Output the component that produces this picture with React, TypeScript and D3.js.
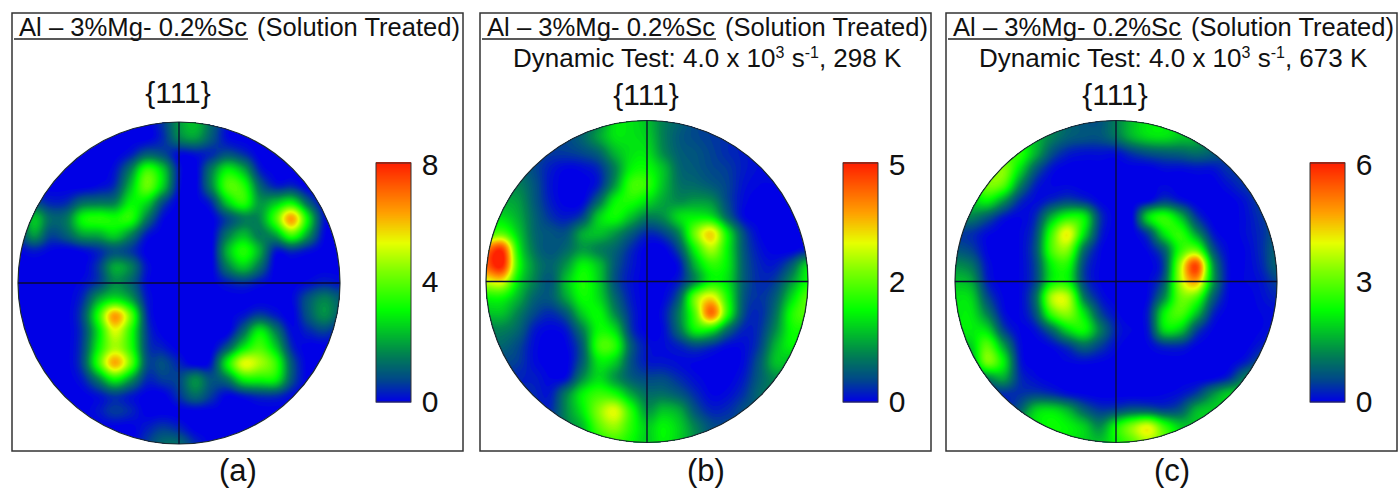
import React from 'react';
import * as d3 from 'd3';

const titleLeft = 'Al – 3%Mg- 0.2%Sc';
const titleRight = '(Solution  Treated)';
const poleLabel = '{111}';
const panelLetters = ['(a)', '(b)', '(c)'];
const testTemps = [null, '298 K', '673 K'];
const scaleMax = [8, 5, 6];
const scaleMid = [4, 2, 3];

// pole figure intensity on a 21x21 grid, in tenths of each colour bar
const poleA = [
  [0,0,0,0,0,0,0,0,0,.8,2.4,3,1.6,.3,0,0,0,0,0,0,0],
  [0,0,0,0,0,0,0,0,0,.6,2,2.4,1.3,.2,0,0,0,0,0,0,0],
  [0,0,0,0,0,0,0,.4,1.4,1.1,.2,.3,.6,1.2,.7,0,0,0,0,0,0],
  [0,0,0,0,0,0,.3,2,4.6,3.2,.4,0,1.9,3.8,2.8,.5,0,0,0,0,0],
  [0,0,0,0,0,.2,.7,3,5.2,3.2,.3,0,2,4.8,4.4,1.6,.5,.6,0,0,0],
  [.2,1,.5,.6,1.6,1.8,2,3.8,3.4,1.1,0,0,.6,3.2,4.4,2.4,3,3.8,1.5,.1,0],
  [1,3,1.6,1.8,3.9,4.3,4.1,4.3,1.9,.2,0,0,0,1,1.9,2.2,4.8,8,3.8,.4,0],
  [.8,2.4,1,1.4,2.5,2.7,3.3,2.1,.4,0,0,0,0,1.8,2.9,1.9,2.6,4.8,2.5,.2,0],
  [.1,.4,.1,0,.2,.6,1.2,.8,0,0,0,0,0,2.8,4.3,2.7,.4,.7,.3,0,0],
  [0,0,0,0,0,.8,2.6,2,.3,0,0,0,0,1.9,3.1,1.7,0,0,0,0,0],
  [0,0,0,0,.2,.9,2.2,1.6,.2,0,0,0,0,.4,.7,.3,0,0,.2,.5,.3],
  [0,0,0,0,.6,2.6,3.6,2.6,.4,0,0,0,0,0,0,0,0,.1,1.2,2,1.4],
  [0,0,0,0,1,4.4,8,5.2,.7,0,0,0,0,0,.3,.9,.4,0,1.2,2.2,1.4],
  [0,0,0,0,.8,3.6,6.6,4.4,.9,0,0,0,0,0,1.6,3.7,2,.2,.5,.9,.4],
  [0,0,0,0,.9,3.9,6,4.4,1,.4,0,0,0,1.3,3.6,4.8,3.2,.6,0,0,0],
  [0,0,0,0,1,4.6,7.8,5.2,1.2,1.1,.5,0,.4,3.8,6.6,6,4.6,1.3,0,0,0],
  [0,0,0,0,.4,2,3.9,2.4,.6,.8,1,2.2,1.2,1.8,3.8,4,3.8,1.2,0,0,0],
  [0,0,0,0,0,.3,.8,.4,0,0,.7,1.6,.8,.1,.4,.7,.7,.2,0,0,0],
  [0,0,0,0,0,.3,.8,.5,0,0,0,0,0,0,0,0,0,0,0,0,0],
  [0,0,0,0,0,0,0,0,.4,.8,.5,0,0,0,0,0,0,0,0,0,0],
  [0,0,0,0,0,0,0,0,.8,1.6,1.6,.6,0,0,0,0,0,0,0,0,0],
];

const poleB = [
  [1,1,1,1,1,1,1,2,3.5,3.5,3,2,1.5,1,.8,.5,.5,.5,.5,.5,.5],
  [1,1,1,1,1,1,1.5,2.5,3.5,3.5,3.2,2,1.3,1,.8,.6,.4,.3,.3,.3,.3],
  [1,1,1,1,.8,.8,1,1.5,2.8,3.5,3.5,2.2,1.4,1.2,.9,.6,.4,.2,.2,.2,.2],
  [1.5,1.5,1.5,1,.4,.1,.2,.6,2,3.8,4,3,1.6,1.3,1,.8,.4,.2,.2,.2,.2],
  [2,2,2,1.2,.3,0,0,.5,2.4,4.6,4.5,3,1.8,1.6,1.3,.9,.3,.1,.1,.1,.1],
  [2.5,2.6,2.4,1.3,.4,0,.1,1.6,3.8,4.2,3.5,2.6,2.2,2.4,2.2,1,.2,0,0,0,0],
  [3.2,3.4,2.7,1.5,.7,.4,1,3.2,4,3,2,2.2,3.4,3.8,3.6,1.6,.2,0,0,0,0],
  [4.5,5,3.2,1.6,1.2,1.2,2.6,3,2.4,1.4,.6,.9,2.2,5.4,7.2,3.8,1.1,.1,0,0,0],
  [8.5,9.6,4,1.8,1.2,1.6,2.4,2,1.5,.6,0,0,1.1,4,6,3.8,1.3,.3,0,0,.4],
  [9,10,4.4,2.2,1.5,2.4,3.8,3,1.3,.4,0,0,.3,2.8,4.4,3.7,1.4,.5,.4,1.4,3.4],
  [6.5,6.8,3.6,2,1.3,3,4.2,3.2,1.2,.3,0,0,.5,2.3,4,3.5,1.4,.6,.9,2.4,4],
  [4,4,2.8,1.5,1.3,2.6,4,3.4,1.6,.4,0,.1,1.4,5.4,7,4.2,1.3,.7,1.4,3.4,5],
  [3,3,2,1,.6,1.3,3.2,3.9,2.2,.6,0,.3,2,5,8.8,4.4,1.1,.6,1.8,4.2,5],
  [2,2,1.5,.4,.1,.4,2,4,3.4,.8,0,.2,1.7,3.9,3.8,1.7,.5,.7,2.2,4,4],
  [1.5,1.5,1,.2,0,.1,1.4,4.6,4.4,1.4,.3,.2,.5,1,.7,.2,.2,.9,2.8,3.8,3.2],
  [1,1,.8,.2,0,0,1.4,3.6,3.2,1.2,.4,.3,.2,.1,0,0,.2,1.3,3,2.8,2.2],
  [.8,.8,.5,.4,.1,.3,2.2,3.4,2.4,1.4,1,1,.6,.2,0,0,.4,1.4,2.2,2.2,2.2],
  [.5,.5,.5,.5,.4,2,3.8,4.6,4.2,2.7,1.7,1.7,1.3,.6,.1,.2,.7,1.6,2,2,2],
  [.5,.5,.5,.5,.6,2.2,3.7,5.6,6.6,4.4,2.4,3,2.6,1.2,.5,.6,1.1,1.5,2,2,2],
  [.5,.5,.5,.5,1,2,3,5,5.8,4.4,3.2,3.8,3.2,2,1.1,1,1,1.5,2,2,2],
  [.5,.5,.5,.5,1,2,3,4,4.6,4,3.2,3.8,3.2,2.2,1.2,1,1,1.5,2,2,2],
];

const poleC = [
  [2,2,2,2,2,2,2,1.5,1.2,1.2,2,3,3.6,3.6,3.2,2.7,2,1,1,1,1],
  [3,3,3,3.2,3.2,2.8,2,1.4,1.2,1.2,1.8,2.8,3.4,3.5,3.1,2.8,1.8,1.2,1,1,1],
  [3,3.2,4,4.2,4.4,2.8,1.2,.5,.3,.3,.3,.8,1.2,1.4,1.5,1.7,1.4,.9,.8,.8,.8],
  [3.2,3.4,4.8,5.6,3.6,1.4,.3,0,0,0,0,0,0,.2,.2,.3,.3,.7,.9,.9,.9],
  [3.2,3.6,5.4,5,2.2,.5,.1,.1,0,0,0,0,0,.1,0,0,0,.3,.7,.9,.9],
  [3,3.2,3.8,2.4,.7,.2,.6,1,.7,.1,0,0,.2,.9,.4,0,0,0,.3,.9,1.1],
  [2,2,1.3,.4,.1,.6,2.8,4.2,3.8,.8,0,.1,3.4,4.4,3,.8,0,0,.2,.7,1.1],
  [.8,.7,.2,0,.1,1,4.6,6.8,3.6,.6,0,0,1,3.6,4.4,2.4,.4,0,.2,.6,1.3],
  [1.2,.9,.1,0,.1,1.2,4.8,5.6,1.8,.2,0,0,.2,1.5,4.4,5,1.3,.1,.1,.6,1.5],
  [2.2,1.8,.3,0,.1,1,3.8,4.2,1,.1,0,0,0,1,6,9.4,2.6,.2,.1,.5,1.5],
  [3,2.6,.5,0,.1,1,3.8,4,1,.1,0,0,.1,1.4,6,7.8,2.6,.2,.1,.3,.9],
  [3.5,3.3,1.1,.1,.1,1.6,6,6.2,2,.4,0,0,.2,2.2,5.2,4.8,1.5,.1,0,.2,.5],
  [3.6,3.6,2,.3,.1,1.2,4.6,5.6,3.6,1.1,.2,0,.5,3.8,4.8,3,.6,0,0,.1,.2],
  [3.6,3.7,3.4,1,.1,.3,1.6,3.4,4,2,.5,.1,.4,3.4,3.2,1,.1,0,0,.1,.4],
  [3,3.2,5,2.6,.3,0,.2,.8,1.6,.9,.2,0,.1,.6,.6,.1,0,0,0,.4,.8],
  [2,2.4,5.4,3.8,.5,0,0,.1,.2,.1,0,0,0,0,0,0,0,0,.4,1.2,1.4],
  [1,1.2,2,2.6,.7,.2,0,0,0,0,0,0,0,0,0,0,.1,.6,2,2.8,2.8],
  [.5,.5,.5,.6,.7,.9,.7,.3,.1,0,0,0,0,.1,.3,.9,2.2,3.2,3.2,3,3],
  [.5,.5,.5,.6,1.4,3.2,3.5,2.8,1.5,.8,1,1.4,1.4,1,1.3,2.8,3.2,3.2,3,3,3],
  [1,1,1,1.2,3,3.6,4,3.8,3.2,2.2,4,5.6,6.6,4.6,3.2,3.1,3,3,3,3,3],
  [1,1,1,1,3,3.5,3.6,3.6,3.3,3,4,5,6,5,3.6,3,3,3,3,3,3],
];

const poles = [poleA, poleB, poleC];

const boxX = [12, 480, 946];
const boxW = 451;
const boxTop = 13;
const boxBottom = 451;
const circleX = [179, 647, 1116];
const circleY = [283, 281.5, 281.5];
const radius = 161;
const barX = [376, 843, 1310];
const barW = 35;
const barTop = 163;
const barBottom = 402;
const font = '"Liberation Sans", Arial, sans-serif';

const colour = d3
  .scaleLinear<string>()
  .domain([0, 0.09, 0.2, 0.385, 0.55, 0.665, 0.79, 1])
  .range(['#0000e6', '#00468c', '#008250', '#00ff00', '#80ff00', '#e6ff00', '#ffa000', '#ff1e00'])
  .clamp(true);

// catmull-rom resample so the coarse grid draws as smooth contours
const cubic = (a: number, b: number, c: number, d: number, t: number) =>
  b + 0.5 * t * (c - a + t * (2 * a - 5 * b + 4 * c - d + t * (3 * (b - c) + d - a)));

const resample = (grid: number[][], m: number) => {
  const n = grid.length;
  const at = (r: number, c: number) =>
    grid[Math.max(0, Math.min(n - 1, r))][Math.max(0, Math.min(n - 1, c))];
  const out = new Array(m * m);
  for (let j = 0; j < m; j++) {
    const fy = ((j + 0.5) / m) * (n - 1);
    const r = Math.floor(fy);
    for (let i = 0; i < m; i++) {
      const fx = ((i + 0.5) / m) * (n - 1);
      const c = Math.floor(fx);
      const rows = [-1, 0, 1, 2].map(k =>
        cubic(at(r + k, c - 1), at(r + k, c), at(r + k, c + 1), at(r + k, c + 2), fx - c)
      );
      out[j * m + i] = cubic(rows[0], rows[1], rows[2], rows[3], fy - r);
    }
  }
  return out;
};

const cells = 161;
const levels = d3.range(0.1, 10, 0.12);
const contourGen = d3.contours().size([cells, cells]).smooth(true).thresholds(levels);
const toPath = d3.geoPath();

const PoleFigure = ({ index }: { index: number }) => {
  const cx = circleX[index];
  const cy = circleY[index];
  const shapes = React.useMemo(() => contourGen(resample(poles[index], cells)), [index]);
  return (
    <g>
      <clipPath id={`clip-${index}`}>
        <circle cx={cx} cy={cy} r={radius} />
      </clipPath>
      <g clipPath={`url(#clip-${index})`}>
        <rect x={cx - radius} y={cy - radius} width={radius * 2} height={radius * 2} fill={colour(0)} />
        <g transform={`translate(${cx - radius},${cy - radius}) scale(${(radius * 2) / cells})`}>
          {shapes.map(s => (
            <path key={s.value} d={toPath(s) || ''} fill={colour(s.value / 10)} />
          ))}
        </g>
      </g>
      <circle cx={cx} cy={cy} r={radius} fill="none" stroke="#1c2a30" strokeWidth={1.2} />
      <line x1={cx - radius} x2={cx + radius} y1={cy} y2={cy} stroke="#0a0a30" strokeWidth={1.3} />
      <line x1={cx} x2={cx} y1={cy - radius} y2={cy + radius} stroke="#0a0a30" strokeWidth={1.3} />
    </g>
  );
};

const ColourBar = ({ index }: { index: number }) => {
  const y = d3.scaleLinear().domain([0, 1]).range([barBottom, barTop]);
  const x = barX[index];
  const steps = d3.range(0, 1.0001, 1 / (barBottom - barTop));
  // the mid label sits half way up the bar, also where it is not half of the top value
  const ticks = [
    { label: 0, pos: 0, base: 9.5 },
    { label: scaleMid[index], pos: 0.5, base: 9.5 },
    { label: scaleMax[index], pos: 1, base: 12 },
  ];
  return (
    <g>
      {steps.map(f => (
        <rect key={f} x={x} y={y(f) - 1} width={barW} height={1.5} fill={colour(f)} />
      ))}
      <rect x={x} y={barTop} width={barW} height={barBottom - barTop} fill="none" stroke="#333" strokeWidth={1} />
      {ticks.map(t => (
        <text key={t.pos} x={x + 54} y={y(t.pos) + t.base} fontSize={30} textAnchor="middle" fill="#111">
          {t.label}
        </text>
      ))}
    </g>
  );
};

const Panel = ({ index }: { index: number }) => {
  const left = boxX[index];
  const temp = testTemps[index];
  const poleY = index === 0 ? 103 : 105;
  return (
    <g fontFamily={font} fill="#111">
      <rect x={left} y={boxTop} width={boxW} height={boxBottom - boxTop} fill="none" stroke="#333" strokeWidth={1.5} />
      <text x={left + 7} y={36} fontSize={25.5} textLength={228} lengthAdjust="spacingAndGlyphs">{titleLeft}</text>
      <line x1={left + 2} x2={left + 236} y1={39} y2={39} stroke="#222" strokeWidth={1.3} />
      <text x={left + 245} y={36} fontSize={25.5} textLength={203} lengthAdjust="spacing">{titleRight}</text>
      {temp && (
        <text x={left + 33} y={67} fontSize={26}>
          Dynamic Test: 4.0 x 10
          <tspan dy={-9} fontSize={16}>3</tspan>
          <tspan dy={9}> s</tspan>
          <tspan dy={-9} fontSize={16}>-1</tspan>
          <tspan dy={9}>, {temp}</tspan>
        </text>
      )}
      <text x={circleX[index] - 1} y={poleY} fontSize={30} textAnchor="middle">{poleLabel}</text>
      <PoleFigure index={index} />
      <ColourBar index={index} />
      <text x={left + 226} y={481} fontSize={31} textAnchor="middle">{panelLetters[index]}</text>
    </g>
  );
};

export default function App() {
  return (
    <svg width={1400} height={489} style={{ position: 'absolute', left: 0, top: 0, background: '#fff' }}>
      {panelLetters.map((_, i) => (
        <Panel key={i} index={i} />
      ))}
    </svg>
  );
}
